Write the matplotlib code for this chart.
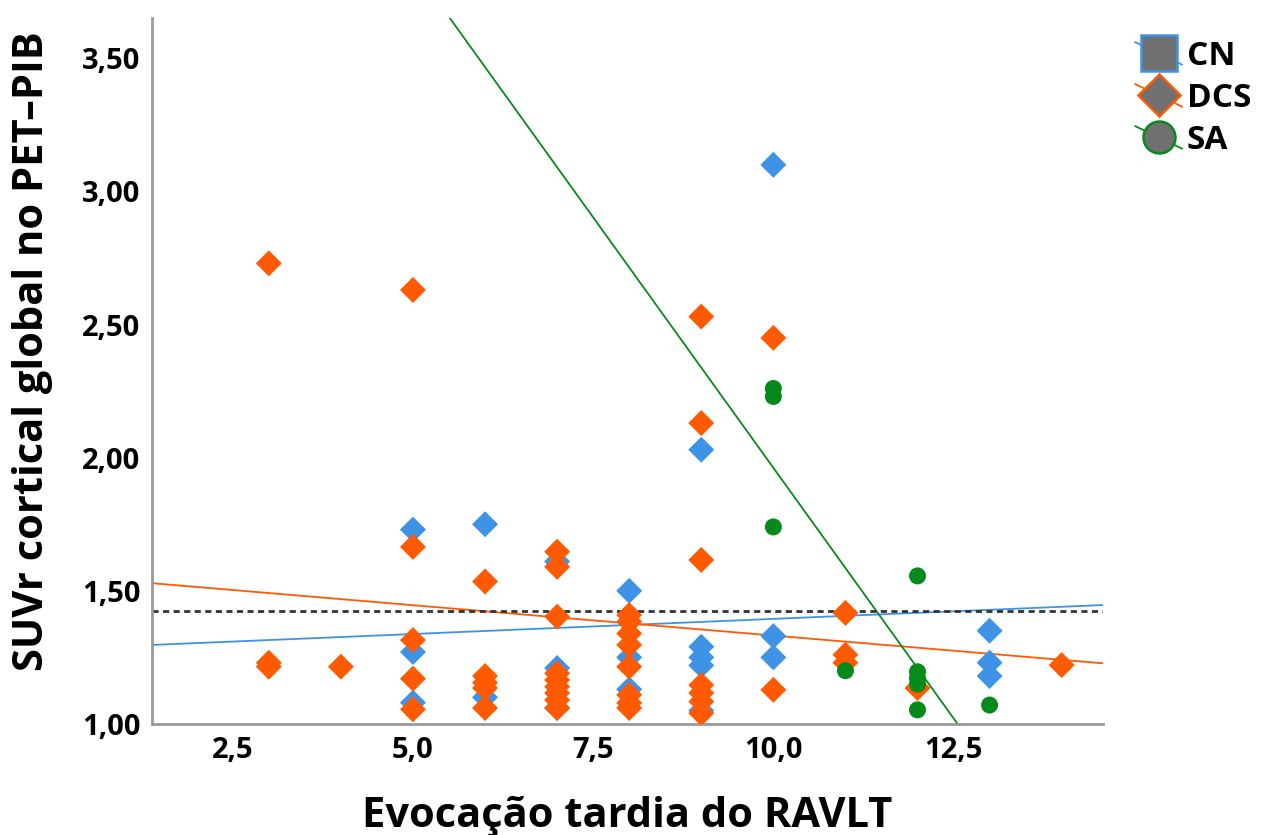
import numpy as np
import matplotlib
matplotlib.use('Agg')
import matplotlib.pyplot as plt
from matplotlib.lines import Line2D
from matplotlib.legend_handler import HandlerBase

plt.rcParams['font.family'] = ['Open Sans', 'DejaVu Sans']
plt.rcParams['font.weight'] = 'bold'

# 데이터
cn_x = [5, 5, 5, 6, 6, 7, 7, 7, 8, 8, 8, 9, 9, 9, 9, 9, 10, 10, 10, 13, 13, 13]
cn_y = [1.73, 1.27, 1.08, 1.75, 1.10, 1.61, 1.21, 1.06, 1.50, 1.25, 1.13,
        2.03, 1.29, 1.25, 1.22, 1.05, 3.10, 1.33, 1.25, 1.35, 1.23, 1.18]

dcs_x = [3, 3, 3, 4, 5, 5, 5, 5, 5, 6, 6, 6, 6, 6,
         7, 7, 7, 7, 7, 7, 7, 7, 7,
         8, 8, 8, 8, 8, 8, 8, 8,
         9, 9, 9, 9, 9, 9, 9, 10, 10, 11, 11, 11, 12, 14]
dcs_y = [2.73, 1.23, 1.215, 1.215, 2.63, 1.665, 1.315, 1.17, 1.055, 1.535, 1.18, 1.155, 1.135, 1.06,
         1.647, 1.59, 1.403, 1.19, 1.165, 1.14, 1.116, 1.09, 1.06,
         1.409, 1.384, 1.34, 1.297, 1.215, 1.109, 1.079, 1.06,
         2.53, 2.13, 1.616, 1.146, 1.116, 1.084, 1.04, 2.45, 1.128, 1.417, 1.26, 1.23, 1.135, 1.221]

sa_x = [10, 10, 10, 11, 12, 12, 12, 12, 12, 13]
sa_y = [2.26, 2.23, 1.74, 1.20, 1.556, 1.196, 1.172, 1.15, 1.053, 1.071]

# 적합선 (절편, 기울기)
fit_cn = (1.281, 0.01136)
fit_dcs = (1.560, -0.0228)
fit_sa = (5.725, -0.3763)
ref_y = 1.425

groups = ['CN', 'DCS', 'SA']
c_cn = '#3f93e6'
c_dcs = '#ff5a00'
c_sa = '#078a1c'


# 범례: 마커 + 대각선
class DiagHandler(HandlerBase):
    def create_artists(self, legend, orig_handle, xdescent, ydescent, width, height, fontsize, trans):
        x0, x1 = -xdescent, width - xdescent
        yc = height / 2 - ydescent
        dy = width * 0.24
        ln = Line2D([x0, x1], [yc + dy, yc - dy], color=orig_handle.get_color(), lw=1.3, transform=trans)
        mk = Line2D([(x0 + x1) / 2], [yc], marker=orig_handle.get_marker(),
                    markersize=orig_handle.get_markersize(), markerfacecolor='#707070',
                    markeredgecolor=orig_handle.get_color(), markeredgewidth=1.8,
                    linestyle='none', transform=trans)
        return [ln, mk]


fig = plt.figure(figsize=(12.64, 8.35), dpi=100)
ax = fig.add_axes([0.120, 0.133, 0.753, 0.845])

xlim = (1.375, 14.58)
ylim = (1.0, 3.65)
xs = np.array(xlim)

ax.plot(xs, fit_cn[0] + fit_cn[1] * xs, color=c_cn, lw=1.3, zorder=2)
ax.plot(xs, fit_dcs[0] + fit_dcs[1] * xs, color=c_dcs, lw=1.3, zorder=2)
ax.plot(xs, fit_sa[0] + fit_sa[1] * xs, color=c_sa, lw=1.3, zorder=2)
ax.axhline(ref_y, color='#333333', lw=2, ls=(0, (2.2, 1.6)), zorder=2)

ax.scatter(cn_x, cn_y, marker='D', s=175, color=c_cn, edgecolors='none', zorder=3)
ax.scatter(dcs_x, dcs_y, marker='D', s=175, color=c_dcs, edgecolors='none', zorder=4)
ax.scatter(sa_x, sa_y, marker='o', s=150, color=c_sa, edgecolors='none', zorder=5)

ax.set_xlim(*xlim)
ax.set_ylim(*ylim)
ax.set_xticks([2.5, 5.0, 7.5, 10.0, 12.5])
ax.set_xticklabels(['2,5', '5,0', '7,5', '10,0', '12,5'])
ax.set_yticks([1.0, 1.5, 2.0, 2.5, 3.0, 3.5])
ax.set_yticklabels(['1,00', '1,50', '2,00', '2,50', '3,00', '3,50'])
ax.tick_params(length=0, labelsize=21)
ax.tick_params(axis='y', pad=8)
ax.tick_params(axis='x', pad=9)
for lab in ax.get_xticklabels() + ax.get_yticklabels():
    lab.set_fontweight('bold')

for s in ['top', 'right']:
    ax.spines[s].set_visible(False)
for s in ['left', 'bottom']:
    ax.spines[s].set_color('#9a9a9a')
    ax.spines[s].set_linewidth(2)

ax.set_xlabel('Evocação tardia do RAVLT', fontsize=30, fontweight='bold', labelpad=22)
ax.set_ylabel('SUVr cortical global no PET–PIB', fontsize=30, fontweight='bold')
ax.yaxis.set_label_coords(-0.104, 0.528)

handles = [
    Line2D([], [], color=c_cn, marker='s', markersize=26),
    Line2D([], [], color=c_dcs, marker='D', markersize=21),
    Line2D([], [], color=c_sa, marker='o', markersize=23),
]
fig.legend(handles, groups, handler_map={Line2D: DiagHandler()},
           loc='upper left', bbox_to_anchor=(0.885, 0.972),
           frameon=False, prop={'weight': 'bold', 'size': 24},
           handlelength=1.4, handletextpad=0.15, labelspacing=0.27, borderpad=0)

fig.savefig('out.png', dpi=100)
